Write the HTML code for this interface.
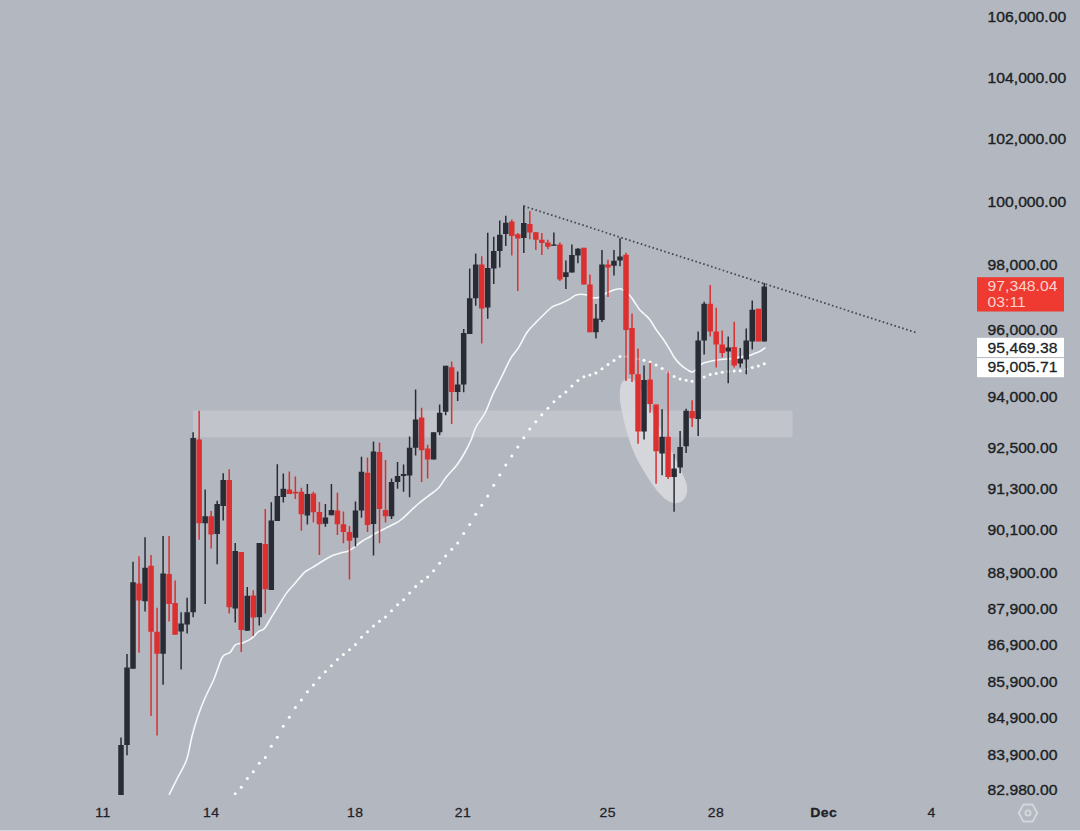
<!DOCTYPE html>
<html><head><meta charset="utf-8">
<style>
html,body{margin:0;padding:0;}
body{width:1080px;height:831px;overflow:hidden;background:#b3b7bf;font-family:"Liberation Sans",sans-serif;}
svg{position:absolute;left:0;top:0;display:block;}
</style></head><body>
<svg width="1080" height="831" viewBox="0 0 1080 831">
<defs>
<clipPath id="pane"><rect x="0" y="0" width="975" height="795"/></clipPath>
<clipPath id="axis"><rect x="975" y="0" width="105" height="795.6"/></clipPath>
</defs>
<rect x="0" y="0" width="1080" height="831" fill="#b3b7bf"/>
<rect x="0" y="830" width="1080" height="1" fill="#d3d6dd"/>
<g clip-path="url(#pane)">
<rect x="193" y="410.5" width="599.6" height="26.8" fill="#c1c4cb"/>
<path d="M626 379 C618 382 619 398 622 412 C626 432 632 452 642 468 C652 485 662 500 673 503 C684 505 690 494 686 482 C680 466 670 448 660 428 C650 408 642 390 636 382 C633 378 629 378 626 379 Z" fill="#d9dbe0" fill-opacity="0.88"/>
<path d="M169.3 794.4 C170.8 791.5 175.1 782.8 178.0 777.0 C180.9 771.2 184.3 766.5 186.7 759.5 C189.1 752.5 190.4 742.2 192.3 735.0 C194.2 727.8 195.9 722.2 198.0 716.0 C200.1 709.8 202.3 704.2 205.0 698.0 C207.7 691.8 211.1 685.8 214.0 679.0 C216.9 672.2 219.7 661.4 222.4 657.0 C225.1 652.6 227.8 654.5 230.0 652.5 C232.2 650.5 233.2 646.5 235.4 644.9 C237.6 643.3 240.3 643.8 243.0 642.7 C245.7 641.6 249.1 640.2 251.6 638.4 C254.1 636.6 255.9 633.6 258.1 631.9 C260.3 630.2 262.4 630.7 264.6 628.2 C266.8 625.8 269.1 620.9 271.4 617.2 C273.7 613.5 275.8 610.2 278.3 606.1 C280.9 602.0 283.9 596.7 286.7 592.9 C289.5 589.1 292.0 586.7 295.0 583.2 C298.0 579.7 301.9 574.7 304.7 572.1 C307.5 569.5 308.7 569.8 311.7 567.9 C314.7 566.0 319.3 563.1 322.8 561.0 C326.3 558.9 329.3 556.8 332.5 555.4 C335.7 554.0 339.6 553.3 342.2 552.6 C344.8 551.9 345.9 552.1 347.8 551.3 C349.7 550.5 351.0 549.4 353.3 547.8 C355.6 546.2 358.9 543.4 361.7 541.5 C364.5 539.6 367.5 538.2 370.0 536.7 C372.5 535.2 374.1 534.0 376.9 532.5 C379.7 531.0 383.7 529.1 386.7 527.6 C389.7 526.1 392.4 524.9 395.0 523.5 C397.6 522.1 398.7 521.8 402.0 519.0 C405.3 516.2 410.8 510.5 415.0 506.8 C419.2 503.1 423.6 499.7 427.5 496.6 C431.4 493.5 435.4 491.3 438.5 488.0 C441.6 484.7 443.2 480.9 446.3 477.0 C449.4 473.1 454.2 468.7 457.3 464.5 C460.4 460.3 462.8 456.2 465.1 452.0 C467.4 447.8 469.5 443.7 471.3 439.5 C473.1 435.3 473.7 431.4 476.0 427.0 C478.3 422.6 482.1 418.6 485.0 413.0 C487.9 407.4 490.5 399.4 493.3 393.3 C496.1 387.2 499.0 382.2 501.8 376.5 C504.6 370.8 507.5 364.0 510.3 359.1 C513.1 354.2 515.9 351.8 518.7 347.3 C521.5 342.8 524.3 336.3 527.1 332.2 C529.9 328.1 532.7 325.8 535.5 322.9 C538.3 319.9 541.1 317.2 543.9 314.5 C546.7 311.8 549.5 308.7 552.3 306.9 C555.1 305.1 558.0 304.9 560.8 303.6 C563.6 302.4 566.5 300.9 569.2 299.4 C571.9 297.9 574.0 295.6 576.8 294.8 C579.6 294.0 583.4 294.3 586.0 294.8 C588.6 295.3 590.4 297.3 592.7 297.7 C595.0 298.1 597.9 297.7 600.0 297.0 C602.1 296.3 603.4 294.7 605.6 293.5 C607.9 292.3 611.1 290.8 613.5 290.0 C615.9 289.2 618.3 288.8 619.8 288.7 C621.2 288.6 620.6 288.6 622.2 289.6 C623.8 290.7 627.4 293.0 629.4 295.0 C631.4 297.0 632.7 299.4 634.3 301.7 C635.9 304.0 637.5 306.9 639.1 308.9 C640.7 310.9 642.1 311.9 643.9 313.7 C645.7 315.5 647.9 317.1 649.9 319.7 C651.9 322.3 653.7 326.1 655.9 329.3 C658.1 332.5 660.9 335.8 663.1 339.0 C665.3 342.2 667.4 345.6 669.2 348.6 C671.0 351.6 672.2 354.4 674.0 357.0 C675.8 359.6 677.8 362.1 680.0 364.2 C682.2 366.3 685.0 368.4 687.2 369.6 C689.4 370.9 690.8 372.6 693.2 371.7 C695.6 370.8 699.2 365.8 701.6 364.2 C704.0 362.6 705.3 362.6 707.5 362.0 C709.7 361.4 712.4 360.9 715.0 360.4 C717.6 359.9 720.8 359.5 723.3 359.2 C725.8 358.9 725.8 359.3 730.0 358.8 C734.2 358.2 744.1 356.7 748.3 355.8 C752.5 354.9 753.0 354.1 755.0 353.3 C757.0 352.5 758.3 352.1 760.0 351.2 C761.7 350.4 764.2 348.5 765.0 348.0" fill="none" stroke="#f7f8fa" stroke-width="1.6" stroke-linejoin="round" stroke-linecap="round"/>
<g fill="#ffffff"><circle cx="235.2" cy="793.8" r="1.5"/><circle cx="241.2" cy="787.2" r="1.5"/><circle cx="247.3" cy="778.5" r="1.5"/><circle cx="253.3" cy="771.7" r="1.5"/><circle cx="259.3" cy="763.3" r="1.5"/><circle cx="265.3" cy="757.5" r="1.5"/><circle cx="271.3" cy="746.2" r="1.5"/><circle cx="277.3" cy="737.2" r="1.5"/><circle cx="283.3" cy="726.2" r="1.5"/><circle cx="289.3" cy="717.3" r="1.5"/><circle cx="295.3" cy="707.5" r="1.5"/><circle cx="301.4" cy="699.9" r="1.5"/><circle cx="307.4" cy="691.7" r="1.5"/><circle cx="313.4" cy="684.9" r="1.5"/><circle cx="319.4" cy="677.7" r="1.5"/><circle cx="325.4" cy="671.7" r="1.5"/><circle cx="331.4" cy="665.7" r="1.5"/><circle cx="337.4" cy="659.5" r="1.5"/><circle cx="343.4" cy="654.4" r="1.5"/><circle cx="349.5" cy="649.7" r="1.5"/><circle cx="355.5" cy="644.6" r="1.5"/><circle cx="361.5" cy="637.3" r="1.5"/><circle cx="367.5" cy="631.8" r="1.5"/><circle cx="373.5" cy="626.0" r="1.5"/><circle cx="379.5" cy="621.2" r="1.5"/><circle cx="385.5" cy="617.1" r="1.5"/><circle cx="391.5" cy="610.7" r="1.5"/><circle cx="397.6" cy="604.8" r="1.5"/><circle cx="403.6" cy="599.8" r="1.5"/><circle cx="409.6" cy="593.0" r="1.5"/><circle cx="415.6" cy="586.6" r="1.5"/><circle cx="421.6" cy="581.3" r="1.5"/><circle cx="427.6" cy="577.0" r="1.5"/><circle cx="433.6" cy="570.8" r="1.5"/><circle cx="439.6" cy="563.3" r="1.5"/><circle cx="445.6" cy="556.0" r="1.5"/><circle cx="451.7" cy="549.3" r="1.5"/><circle cx="457.7" cy="543.1" r="1.5"/><circle cx="463.7" cy="533.5" r="1.5"/><circle cx="469.7" cy="524.4" r="1.5"/><circle cx="475.7" cy="514.2" r="1.5"/><circle cx="481.7" cy="505.3" r="1.5"/><circle cx="487.7" cy="496.0" r="1.5"/><circle cx="493.7" cy="485.2" r="1.5"/><circle cx="499.8" cy="474.9" r="1.5"/><circle cx="505.8" cy="465.0" r="1.5"/><circle cx="511.8" cy="456.1" r="1.5"/><circle cx="517.8" cy="446.9" r="1.5"/><circle cx="523.8" cy="437.8" r="1.5"/><circle cx="529.8" cy="429.0" r="1.5"/><circle cx="535.8" cy="421.8" r="1.5"/><circle cx="541.8" cy="414.7" r="1.5"/><circle cx="547.9" cy="408.3" r="1.5"/><circle cx="553.9" cy="401.7" r="1.5"/><circle cx="559.9" cy="396.5" r="1.5"/><circle cx="565.9" cy="392.0" r="1.5"/><circle cx="571.9" cy="386.0" r="1.5"/><circle cx="577.9" cy="380.6" r="1.5"/><circle cx="583.9" cy="376.8" r="1.5"/><circle cx="589.9" cy="375.1" r="1.5"/><circle cx="595.9" cy="373.0" r="1.5"/><circle cx="602.0" cy="368.7" r="1.5"/><circle cx="608.0" cy="364.5" r="1.5"/><circle cx="614.0" cy="360.4" r="1.5"/><circle cx="620.0" cy="356.4" r="1.5"/><circle cx="626.0" cy="356.6" r="1.5"/><circle cx="632.0" cy="357.6" r="1.5"/><circle cx="638.0" cy="359.1" r="1.5"/><circle cx="644.0" cy="360.2" r="1.5"/><circle cx="650.1" cy="362.0" r="1.5"/><circle cx="656.1" cy="365.1" r="1.5"/><circle cx="662.1" cy="368.4" r="1.5"/><circle cx="668.1" cy="372.2" r="1.5"/><circle cx="674.1" cy="376.6" r="1.5"/><circle cx="680.1" cy="378.9" r="1.5"/><circle cx="686.1" cy="380.3" r="1.5"/><circle cx="692.1" cy="381.2" r="1.5"/><circle cx="698.2" cy="379.3" r="1.5"/><circle cx="704.2" cy="376.9" r="1.5"/><circle cx="710.2" cy="374.4" r="1.5"/><circle cx="716.2" cy="373.5" r="1.5"/><circle cx="722.2" cy="372.3" r="1.5"/><circle cx="728.2" cy="371.4" r="1.5"/><circle cx="734.2" cy="371.0" r="1.5"/><circle cx="740.2" cy="370.8" r="1.5"/><circle cx="746.2" cy="369.0" r="1.5"/><circle cx="752.3" cy="367.4" r="1.5"/><circle cx="758.3" cy="366.1" r="1.5"/><circle cx="764.3" cy="363.7" r="1.5"/></g>
<path d="M120.25 737.4h1.5V797.0h-1.5ZM126.26 654.1h1.5V755.2h-1.5ZM132.27 561.7h1.5V668.7h-1.5ZM144.30 537.2h1.5V611.4h-1.5ZM162.33 536.1h1.5V684.7h-1.5ZM180.37 612.2h1.5V669.5h-1.5ZM186.38 597.8h1.5V633.6h-1.5ZM192.39 432.3h1.5V617.3h-1.5ZM204.42 489.6h1.5V604.0h-1.5ZM216.44 500.8h1.5V564.2h-1.5ZM222.45 473.3h1.5V520.4h-1.5ZM234.48 542.9h1.5V622.5h-1.5ZM246.50 587.1h1.5V630.8h-1.5ZM258.53 542.9h1.5V625.6h-1.5ZM270.55 502.2h1.5V590.0h-1.5ZM276.56 464.2h1.5V520.9h-1.5ZM282.57 473.4h1.5V502.5h-1.5ZM306.62 484.0h1.5V524.6h-1.5ZM324.66 504.0h1.5V526.8h-1.5ZM330.67 484.0h1.5V515.3h-1.5ZM354.72 501.4h1.5V546.4h-1.5ZM360.73 456.8h1.5V517.7h-1.5ZM372.75 441.6h1.5V555.6h-1.5ZM390.79 478.4h1.5V518.9h-1.5ZM396.80 462.0h1.5V488.7h-1.5ZM402.81 464.5h1.5V491.7h-1.5ZM408.83 436.5h1.5V497.3h-1.5ZM414.84 389.4h1.5V455.5h-1.5ZM432.87 432.2h1.5V459.6h-1.5ZM438.89 404.6h1.5V435.3h-1.5ZM444.90 365.7h1.5V415.2h-1.5ZM456.92 371.4h1.5V400.9h-1.5ZM462.93 328.9h1.5V392.3h-1.5ZM468.95 268.5h1.5V334.0h-1.5ZM474.96 253.6h1.5V305.8h-1.5ZM486.98 232.7h1.5V318.7h-1.5ZM492.99 236.8h1.5V283.9h-1.5ZM499.01 220.5h1.5V267.5h-1.5ZM505.02 215.7h1.5V246.0h-1.5ZM523.05 205.5h1.5V253.1h-1.5ZM553.11 232.6h1.5V245.8h-1.5ZM565.14 260.5h1.5V288.9h-1.5ZM571.15 244.5h1.5V272.6h-1.5ZM577.16 248.0h1.5V263.2h-1.5ZM595.20 304.0h1.5V338.5h-1.5ZM601.21 250.0h1.5V322.0h-1.5ZM613.23 250.0h1.5V275.6h-1.5ZM619.25 238.3h1.5V266.2h-1.5ZM643.29 365.6h1.5V439.6h-1.5ZM661.33 409.2h1.5V475.2h-1.5ZM673.35 454.0h1.5V511.7h-1.5ZM679.37 431.0h1.5V473.3h-1.5ZM685.38 408.8h1.5V453.0h-1.5ZM697.40 331.6h1.5V436.0h-1.5ZM703.41 301.8h1.5V354.5h-1.5ZM727.46 336.6h1.5V383.3h-1.5ZM739.49 348.1h1.5V367.4h-1.5ZM745.50 328.6h1.5V374.3h-1.5ZM751.51 300.4h1.5V349.5h-1.5ZM763.53 283.0h1.5V341.6h-1.5Z" fill="#2a2c35"/>
<path d="M138.29 556.2h1.5V652.7h-1.5ZM150.31 555.0h1.5V715.9h-1.5ZM156.32 607.7h1.5V735.4h-1.5ZM168.35 536.0h1.5V621.4h-1.5ZM174.36 580.5h1.5V634.7h-1.5ZM198.41 410.7h1.5V539.7h-1.5ZM210.43 511.0h1.5V548.5h-1.5ZM228.47 469.2h1.5V613.4h-1.5ZM240.49 552.0h1.5V651.9h-1.5ZM252.51 590.2h1.5V636.0h-1.5ZM264.54 509.1h1.5V613.5h-1.5ZM288.59 471.4h1.5V493.9h-1.5ZM294.60 476.5h1.5V499.0h-1.5ZM300.61 487.7h1.5V530.7h-1.5ZM312.63 491.8h1.5V522.5h-1.5ZM318.65 502.0h1.5V555.0h-1.5ZM336.68 492.8h1.5V535.1h-1.5ZM342.69 511.6h1.5V543.3h-1.5ZM348.71 526.0h1.5V579.5h-1.5ZM366.74 457.4h1.5V532.0h-1.5ZM378.77 442.6h1.5V543.3h-1.5ZM384.78 460.0h1.5V522.4h-1.5ZM420.85 407.8h1.5V482.1h-1.5ZM426.86 444.7h1.5V478.4h-1.5ZM450.91 361.6h1.5V424.0h-1.5ZM480.97 256.3h1.5V343.4h-1.5ZM511.03 219.4h1.5V255.6h-1.5ZM517.04 232.9h1.5V291.0h-1.5ZM529.07 210.9h1.5V239.3h-1.5ZM535.08 231.9h1.5V250.0h-1.5ZM541.09 232.9h1.5V255.0h-1.5ZM547.10 239.8h1.5V249.3h-1.5ZM559.13 242.4h1.5V280.9h-1.5ZM583.17 247.7h1.5V284.6h-1.5ZM589.19 274.5h1.5V332.3h-1.5ZM607.22 259.7h1.5V297.0h-1.5ZM625.26 252.7h1.5V381.0h-1.5ZM631.27 313.6h1.5V382.0h-1.5ZM637.28 348.4h1.5V443.8h-1.5ZM649.31 362.7h1.5V412.7h-1.5ZM655.32 404.6h1.5V483.8h-1.5ZM667.34 371.3h1.5V479.0h-1.5ZM691.39 400.2h1.5V427.0h-1.5ZM709.43 284.9h1.5V336.6h-1.5ZM715.44 307.8h1.5V367.4h-1.5ZM721.45 330.6h1.5V357.5h-1.5ZM733.47 321.7h1.5V367.4h-1.5ZM757.52 308.8h1.5V341.6h-1.5Z" fill="#dc3030"/>
<path d="M118.25 745.0h5.5V797.0h-5.5ZM124.26 667.5h5.5V745.0h-5.5ZM130.27 582.2h5.5V668.7h-5.5ZM142.30 567.8h5.5V601.2h-5.5ZM160.33 573.6h5.5V653.8h-5.5ZM178.37 623.4h5.5V631.6h-5.5ZM184.38 612.2h5.5V624.4h-5.5ZM190.39 438.0h5.5V612.2h-5.5ZM202.42 516.2h5.5V523.3h-5.5ZM214.44 504.0h5.5V534.0h-5.5ZM220.45 480.0h5.5V506.0h-5.5ZM232.48 551.0h5.5V608.5h-5.5ZM244.50 595.7h5.5V630.8h-5.5ZM256.53 542.9h5.5V617.2h-5.5ZM268.55 520.4h5.5V590.0h-5.5ZM274.56 495.9h5.5V520.9h-5.5ZM280.57 488.8h5.5V496.9h-5.5ZM304.62 493.9h5.5V515.4h-5.5ZM322.66 517.6h5.5V523.7h-5.5ZM328.67 510.0h5.5V515.3h-5.5ZM352.72 510.6h5.5V537.8h-5.5ZM358.73 471.7h5.5V510.6h-5.5ZM370.75 451.5h5.5V524.0h-5.5ZM388.79 482.1h5.5V516.3h-5.5ZM394.80 476.0h5.5V482.1h-5.5ZM400.81 474.0h5.5V476.0h-5.5ZM406.83 447.7h5.5V475.4h-5.5ZM412.84 419.5h5.5V447.7h-5.5ZM430.87 432.2h5.5V459.6h-5.5ZM436.89 412.7h5.5V432.2h-5.5ZM442.90 365.7h5.5V411.7h-5.5ZM454.92 384.5h5.5V391.9h-5.5ZM460.93 333.0h5.5V384.5h-5.5ZM466.95 298.2h5.5V334.0h-5.5ZM472.96 264.4h5.5V298.2h-5.5ZM484.98 267.9h5.5V307.4h-5.5ZM490.99 251.1h5.5V268.5h-5.5ZM497.01 234.8h5.5V251.1h-5.5ZM503.02 222.7h5.5V233.9h-5.5ZM521.05 222.9h5.5V237.9h-5.5ZM551.11 244.6h5.5V245.8h-5.5ZM563.14 272.2h5.5V277.0h-5.5ZM569.15 254.9h5.5V272.6h-5.5ZM575.16 248.7h5.5V255.6h-5.5ZM593.20 318.5h5.5V332.3h-5.5ZM599.21 264.6h5.5V319.9h-5.5ZM611.23 260.7h5.5V265.7h-5.5ZM617.25 256.5h5.5V260.6h-5.5ZM641.29 380.0h5.5V431.5h-5.5ZM659.33 436.7h5.5V453.5h-5.5ZM671.35 468.5h5.5V477.0h-5.5ZM677.37 447.0h5.5V467.5h-5.5ZM683.38 410.8h5.5V446.3h-5.5ZM695.40 340.6h5.5V419.0h-5.5ZM701.41 303.8h5.5V340.6h-5.5ZM725.46 347.5h5.5V351.5h-5.5ZM737.49 358.8h5.5V363.4h-5.5ZM743.50 340.6h5.5V359.4h-5.5ZM749.51 309.8h5.5V341.6h-5.5ZM761.53 286.5h5.5V341.6h-5.5Z" fill="#2a2c35"/>
<path d="M136.29 583.6h5.5V600.6h-5.5ZM148.31 565.8h5.5V631.7h-5.5ZM154.32 631.7h5.5V653.8h-5.5ZM166.35 574.0h5.5V604.0h-5.5ZM172.36 603.0h5.5V634.7h-5.5ZM196.41 439.4h5.5V523.3h-5.5ZM208.43 516.2h5.5V534.6h-5.5ZM226.47 480.0h5.5V607.3h-5.5ZM238.49 552.0h5.5V630.1h-5.5ZM250.51 595.5h5.5V617.5h-5.5ZM262.54 543.9h5.5V589.2h-5.5ZM286.59 489.4h5.5V493.9h-5.5ZM292.60 491.8h5.5V493.5h-5.5ZM298.61 491.8h5.5V514.3h-5.5ZM310.63 493.5h5.5V512.3h-5.5ZM316.65 512.0h5.5V524.2h-5.5ZM334.68 510.6h5.5V524.3h-5.5ZM340.69 524.3h5.5V532.0h-5.5ZM346.71 532.0h5.5V540.7h-5.5ZM364.74 472.7h5.5V524.9h-5.5ZM376.77 452.0h5.5V509.1h-5.5ZM382.78 510.1h5.5V516.3h-5.5ZM418.85 417.5h5.5V450.2h-5.5ZM424.86 448.5h5.5V459.6h-5.5ZM448.91 367.3h5.5V391.9h-5.5ZM478.97 264.4h5.5V308.4h-5.5ZM509.03 221.6h5.5V235.9h-5.5ZM515.04 234.2h5.5V238.6h-5.5ZM527.07 224.1h5.5V232.5h-5.5ZM533.08 232.3h5.5V239.8h-5.5ZM539.09 239.8h5.5V243.0h-5.5ZM545.10 242.4h5.5V246.8h-5.5ZM557.13 244.5h5.5V279.6h-5.5ZM581.17 247.7h5.5V284.6h-5.5ZM587.19 284.6h5.5V332.3h-5.5ZM605.22 264.6h5.5V267.6h-5.5ZM623.26 254.7h5.5V330.0h-5.5ZM629.27 328.0h5.5V374.2h-5.5ZM635.28 374.2h5.5V431.5h-5.5ZM647.31 379.6h5.5V404.0h-5.5ZM653.32 404.6h5.5V451.2h-5.5ZM665.34 436.7h5.5V477.0h-5.5ZM689.39 410.9h5.5V418.2h-5.5ZM707.43 303.8h5.5V331.6h-5.5ZM713.44 331.6h5.5V344.5h-5.5ZM719.45 344.5h5.5V352.9h-5.5ZM731.47 346.9h5.5V365.4h-5.5ZM755.52 308.8h5.5V341.6h-5.5Z" fill="#dc3030"/>
<line x1="523.7" y1="206.1" x2="917" y2="332.9" stroke="#454952" stroke-width="1.8" stroke-dasharray="1.6 2.5"/>
</g>
<g clip-path="url(#axis)" font-family="Liberation Sans, sans-serif" font-size="15.7" fill="#1c1f25" stroke="#1c1f25" stroke-width="0.4">
<text transform="translate(987.60 22.41) scale(1 0.91)" >106,000.00</text><text transform="translate(987.60 83.11) scale(1 0.91)" >104,000.00</text><text transform="translate(987.60 144.41) scale(1 0.91)" >102,000.00</text><text transform="translate(987.60 206.61) scale(1 0.91)" >100,000.00</text><text transform="translate(987.60 270.11) scale(1 0.91)" >98,000.00</text><text transform="translate(987.60 335.31) scale(1 0.91)" >96,000.00</text><text transform="translate(987.60 401.81) scale(1 0.91)" >94,000.00</text><text transform="translate(987.60 452.51) scale(1 0.91)" >92,500.00</text><text transform="translate(987.60 493.61) scale(1 0.91)" >91,300.00</text><text transform="translate(987.60 535.11) scale(1 0.91)" >90,100.00</text><text transform="translate(987.60 577.91) scale(1 0.91)" >88,900.00</text><text transform="translate(987.60 614.01) scale(1 0.91)" >87,900.00</text><text transform="translate(987.60 649.91) scale(1 0.91)" >86,900.00</text><text transform="translate(987.60 686.51) scale(1 0.91)" >85,900.00</text><text transform="translate(987.60 722.91) scale(1 0.91)" >84,900.00</text><text transform="translate(987.60 760.31) scale(1 0.91)" >83,900.00</text><text transform="translate(987.60 795.31) scale(1 0.91)" >82,980.00</text>
</g>
<rect x="977" y="277.2" width="87" height="34.3" fill="#ee3a30"/>
<g font-size="15.7" fill="#fbd3cc" font-family="Liberation Sans, sans-serif">
<text transform="translate(987.60 291.41) scale(1 0.91)" >97,348.04</text>
<text transform="translate(987.60 306.91) scale(1 0.91)" >03:11</text>
</g>
<rect x="977" y="337.8" width="87" height="19.3" fill="#ffffff"/>
<rect x="977" y="358.1" width="87" height="19.1" fill="#ffffff"/>
<g font-size="15.7" fill="#1c1f25" stroke="#1c1f25" stroke-width="0.3" font-family="Liberation Sans, sans-serif">
<text transform="translate(987.60 352.61) scale(1 0.91)" >95,469.38</text>
<text transform="translate(987.60 372.21) scale(1 0.91)" >95,005.71</text>
</g>
<g font-family="Liberation Sans, sans-serif" font-size="14" fill="#1f2228" letter-spacing="0.4" stroke="#1f2228" stroke-width="0.3">
<text transform="translate(103.00 817.21) scale(1 0.96)" text-anchor="middle">11</text><text transform="translate(211.20 817.21) scale(1 0.96)" text-anchor="middle">14</text><text transform="translate(355.30 817.21) scale(1 0.96)" text-anchor="middle">18</text><text transform="translate(463.00 817.21) scale(1 0.96)" text-anchor="middle">21</text><text transform="translate(607.80 817.21) scale(1 0.96)" text-anchor="middle">25</text><text transform="translate(716.00 817.21) scale(1 0.96)" text-anchor="middle">28</text><text transform="translate(823.80 817.21) scale(1 0.96)" text-anchor="middle" font-weight="bold">Dec</text><text transform="translate(931.60 817.21) scale(1 0.96)" text-anchor="middle">4</text>
</g>
<g fill="none" stroke="#d3d6db" stroke-width="2" stroke-linejoin="round">
<path d="M1023.3 804.6 L1032.7 804.6 L1037.2 813 L1032.7 821.4 L1023.3 821.4 L1018.8 813 Z"/>
<circle cx="1028" cy="813" r="2.6" stroke-width="1.9"/>
</g>
</svg>
</body></html>
